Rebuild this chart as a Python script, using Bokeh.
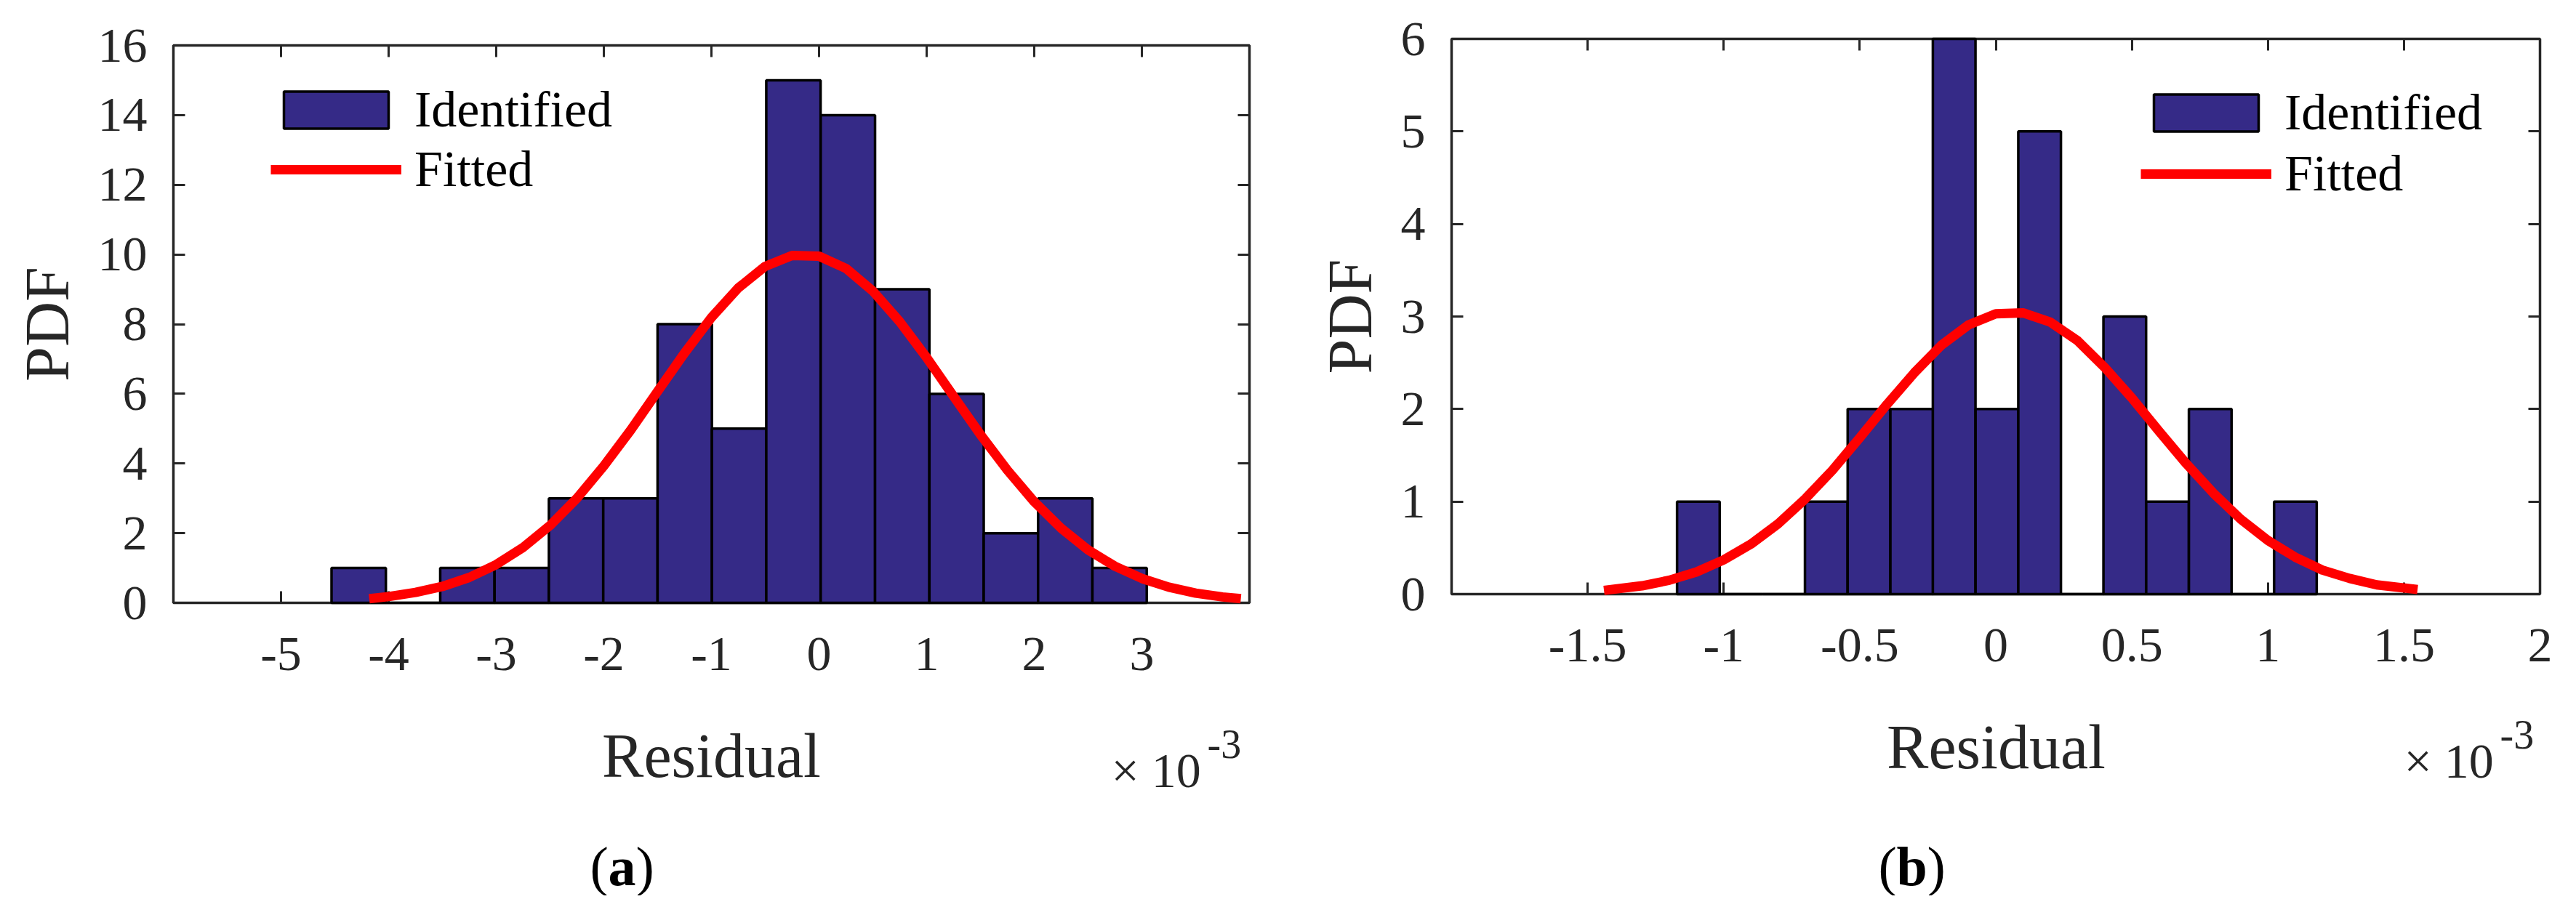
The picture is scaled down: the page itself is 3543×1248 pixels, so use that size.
from bokeh.plotting import figure
from bokeh.layouts import row, column
from bokeh.models import (ColumnDataSource, FixedTicker, LinearAxis, Range1d,
                          Legend, LegendItem, Label)
from bokeh.embed import file_html
from bokeh.resources import INLINE

FONT = "Liberation Serif"
INK = "#262626"
BAR_FILL = "#352A87"
FIT_RED = "#FF0000"

# ---- panel (a): residual histogram, x in units of 1e-3 ----
a_bin_centers = [-4.278, -3.773, -3.268, -2.763, -2.258, -1.753, -1.248, -0.743,
                 -0.238, 0.268, 0.773, 1.278, 1.783, 2.288, 2.793]
a_counts = [1, 0, 1, 1, 3, 3, 8, 5, 15, 14, 9, 6, 2, 3, 1]
a_bin_width = 0.505
a_fit_x = [-4.18, -4.0, -3.75, -3.5, -3.25, -3.0, -2.75, -2.5, -2.25, -2.0, -1.75,
           -1.5, -1.25, -1.0, -0.75, -0.5, -0.25, 0.0, 0.25, 0.5, 0.75, 1.0, 1.25,
           1.5, 1.75, 2.0, 2.25, 2.5, 2.75, 3.0, 3.25, 3.5, 3.75, 3.92]
a_fit_y = [0.12, 0.18, 0.30, 0.47, 0.73, 1.10, 1.59, 2.22, 3.00, 3.93, 4.96,
           6.07, 7.17, 8.19, 9.04, 9.66, 9.97, 9.95, 9.60, 8.95, 8.07, 7.04, 5.93,
           4.83, 3.81, 2.90, 2.14, 1.52, 1.05, 0.70, 0.45, 0.28, 0.17, 0.12]
a_xticks = [-5, -4, -3, -2, -1, 0, 1, 2, 3]
a_xtick_labels = ["-5", "-4", "-3", "-2", "-1", "0", "1", "2", "3"]
a_yticks = [0, 2, 4, 6, 8, 10, 12, 14, 16]

# ---- panel (b) ----
b_bin_centers = [-1.093, -0.936, -0.779, -0.623, -0.466, -0.309, -0.153, 0.004,
                 0.161, 0.318, 0.474, 0.631, 0.788, 0.944, 1.101]
b_counts = [1, 0, 0, 1, 2, 2, 6, 2, 5, 0, 3, 1, 2, 0, 1]
b_bin_width = 0.1567
b_fit_x = [-1.44, -1.3, -1.2, -1.1, -1.0, -0.9, -0.8, -0.7, -0.6, -0.5, -0.4,
           -0.3, -0.2, -0.1, 0.0, 0.1, 0.2, 0.3, 0.4, 0.5, 0.6, 0.7, 0.8, 0.9,
           1.0, 1.1, 1.2, 1.3, 1.4, 1.55]
b_fit_y = [0.04, 0.09, 0.15, 0.24, 0.37, 0.54, 0.76, 1.03, 1.34, 1.69, 2.05,
           2.39, 2.69, 2.91, 3.03, 3.04, 2.94, 2.74, 2.45, 2.12, 1.76, 1.41, 1.09,
           0.81, 0.58, 0.40, 0.26, 0.17, 0.10, 0.05]
b_xticks = [-1.5, -1, -0.5, 0, 0.5, 1, 1.5, 2]
b_xtick_labels = ["-1.5", "-1", "-0.5", "0", "0.5", "1", "1.5", "2"]
b_yticks = [0, 1, 2, 3, 4, 5, 6]

PAGE_H = 1232          # usable page height
XLABEL_STANDOFF = 48   # frame bottom -> x tick labels
XLABEL_BAND = XLABEL_STANDOFF + 76
LEFT = 238


def style_axis(ax, ticks, labels=None, show_labels=True):
    ax.ticker = FixedTicker(ticks=ticks)
    ax.axis_line_color = None
    ax.major_tick_in = 16
    ax.major_tick_out = 0
    ax.major_tick_line_color = INK
    ax.major_tick_line_width = 3
    ax.minor_tick_line_color = None
    if labels is not None:
        ax.major_label_overrides = dict(zip(ticks, labels))
    if show_labels:
        ax.major_label_text_font = FONT
        ax.major_label_text_font_size = "68px"
        ax.major_label_text_color = INK
    else:
        # mirrored box ticks only
        ax.major_label_text_font_size = "0px"
        ax.major_label_standoff = 0


def panel(centers, counts, bw, fit_x, fit_y, xr, yr, xticks, xlabels, yticks,
          frame_w, frame_h, top, right, leg_xy, leg_spacing):
    p = figure(frame_width=frame_w, frame_height=frame_h,
               x_range=Range1d(*xr), y_range=Range1d(*yr),
               min_border_left=LEFT, min_border_top=top, min_border_right=right,
               min_border_bottom=XLABEL_BAND,
               output_backend="svg", toolbar_location=None, tools="")
    p.grid.visible = False
    p.outline_line_color = INK
    p.outline_line_width = 3.5
    p.background_fill_color = "white"
    p.border_fill_color = "white"

    style_axis(p.xaxis[0], xticks, xlabels)
    style_axis(p.yaxis[0], yticks)
    p.xaxis.major_label_standoff = XLABEL_STANDOFF
    p.yaxis.major_label_standoff = 36
    p.yaxis.axis_label = "PDF"
    p.yaxis.axis_label_text_font = FONT
    p.yaxis.axis_label_text_font_size = "86px"
    p.yaxis.axis_label_text_font_style = "normal"
    p.yaxis.axis_label_text_color = INK
    p.yaxis.axis_label_standoff = 19
    top_ax = LinearAxis()
    style_axis(top_ax, xticks, show_labels=False)
    p.add_layout(top_ax, "above")
    right_ax = LinearAxis()
    style_axis(right_ax, yticks, show_labels=False)
    p.add_layout(right_ax, "right")

    src = ColumnDataSource(dict(x=centers, top=counts))
    bars = p.vbar(x="x", top="top", bottom=0, width=bw, source=src,
                  fill_color=BAR_FILL, line_color="black", line_width=3.5,
                  level="overlay")
    fit = p.line(fit_x, fit_y, line_color=FIT_RED, line_width=13,
                 line_join="round", level="overlay")

    legend = Legend(items=[LegendItem(label="Identified", renderers=[bars]),
                           LegendItem(label="Fitted", renderers=[fit])],
                    location=leg_xy, orientation="vertical", padding=0, margin=0,
                    spacing=leg_spacing, glyph_width=180, glyph_height=64,
                    label_height=64, label_standoff=18,
                    label_text_font=FONT, label_text_font_size="70px",
                    label_text_color="black",
                    border_line_color=None, background_fill_alpha=0)
    p.add_layout(legend)
    return p


def notes_strip(frame_w, right, height, items):
    """Axis title, exponent and caption under a panel.

    Same horizontal frame as the panel above it; (sx, sy) are pixels from
    the frame's left edge and from the strip's bottom."""
    n = figure(frame_width=frame_w, frame_height=height,
               min_border_left=LEFT, min_border_right=right,
               min_border_top=0, min_border_bottom=0,
               x_range=Range1d(0, 1), y_range=Range1d(0, 1),
               x_axis_location=None, y_axis_location=None,
               output_backend="svg", toolbar_location=None, tools="")
    n.grid.visible = False
    n.outline_line_color = None
    for s, sx, sy, size, style, align, color in items:
        n.add_layout(Label(x=sx, y=sy, x_units="screen", y_units="screen", text=s,
                           text_font=FONT, text_font_size=size,
                           text_font_style=style, text_color=color,
                           text_align=align, text_baseline="alphabetic"))
    return n


def note_items(cx, base, exp_x, exp_base, cap_x, cap_base, letter, letter_w):
    return [("Residual", cx, base, "86px", "normal", "center", INK),
            ("\u00d7 10", exp_x, exp_base, "68px", "normal", "left", INK),
            ("-3", exp_x + 132, exp_base + 36, "56px", "normal", "left", INK),
            ("(", cap_x, cap_base, "76px", "normal", "left", "black"),
            (letter, cap_x + 25, cap_base, "76px", "bold", "left", "black"),
            (")", cap_x + 25 + letter_w, cap_base, "76px", "normal", "left", "black")]


A_TOP, A_FRAME_W, A_FRAME_H, A_RIGHT = 62, 1480, 767, 40
B_TOP, B_FRAME_W, B_FRAME_H, B_RIGHT = 53, 1497, 764, 34

pa = panel(a_bin_centers, a_counts, a_bin_width, a_fit_x, a_fit_y,
           (-6, 4), (0, 16), a_xticks, a_xtick_labels, a_yticks,
           frame_w=A_FRAME_W, frame_h=A_FRAME_H, top=A_TOP, right=A_RIGHT,
           leg_xy=(134, 556), leg_spacing=2)

pb = panel(b_bin_centers, b_counts, b_bin_width, b_fit_x, b_fit_y,
           (-2, 2), (0, 6), b_xticks, b_xtick_labels, b_yticks,
           frame_w=B_FRAME_W, frame_h=B_FRAME_H, top=B_TOP, right=B_RIGHT,
           leg_xy=(948, 538), leg_spacing=4)

na = notes_strip(A_FRAME_W, A_RIGHT, PAGE_H - (A_TOP + A_FRAME_H + XLABEL_BAND),
                 note_items(740, 193, 1290, 173, 573, 41, "a", 38))
nb = notes_strip(B_FRAME_W, B_RIGHT, PAGE_H - (B_TOP + B_FRAME_H + XLABEL_BAND),
                 note_items(749, 205, 1310, 186, 587, 41, "b", 42))

layout = row(column(pa, na), column(pb, nb))
open("out.html", "w").write(file_html(layout, INLINE))
